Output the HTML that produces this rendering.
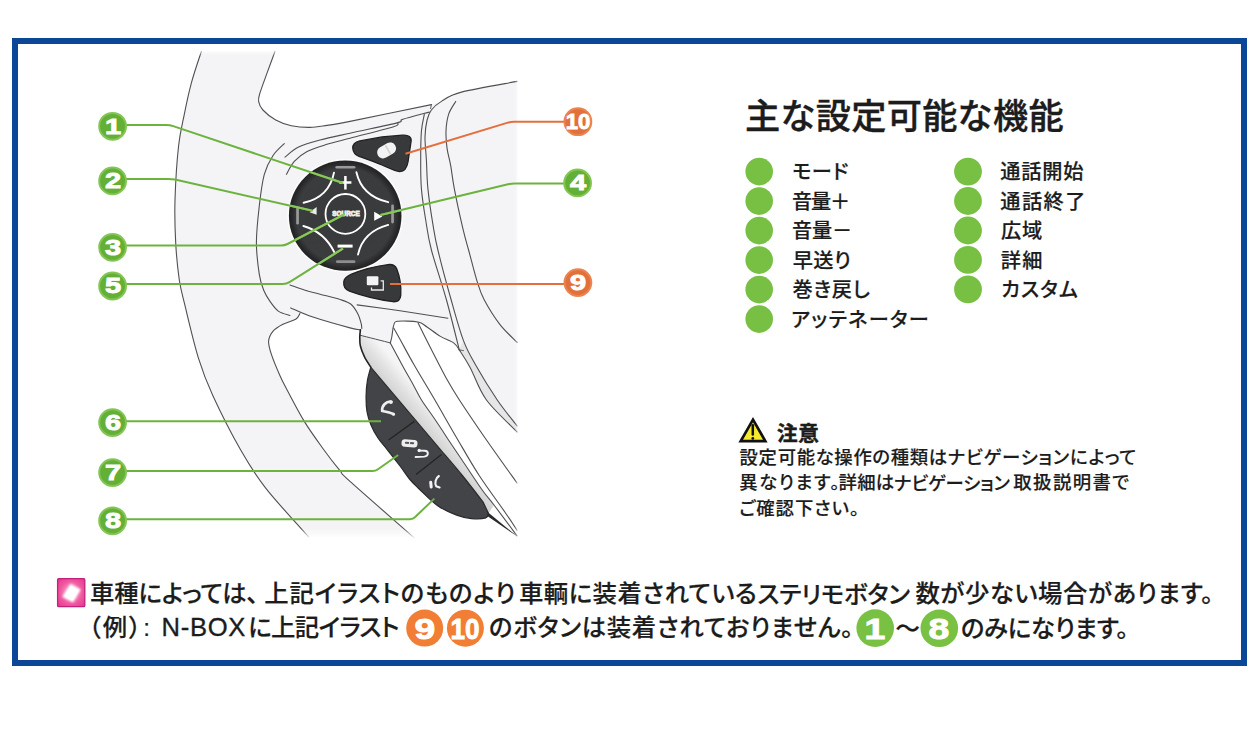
<!DOCTYPE html>
<html lang="ja"><head><meta charset="utf-8"><title>ステアリングリモコン 設定可能な機能</title>
<style>
html,body{margin:0;padding:0;background:#fff;}
body{width:1260px;height:742px;position:relative;overflow:hidden;font-family:"Liberation Sans","Noto Sans CJK JP",sans-serif;color:#1c1c1c;}
#frame{position:absolute;left:12px;top:38px;width:1223px;height:616px;border:6px solid #0b4697;box-sizing:content-box;}
.t{position:absolute;white-space:nowrap;line-height:1;}
.n{position:absolute;line-height:1;font-weight:700;color:#fff;white-space:nowrap;-webkit-text-stroke:0.9px #fff;font-family:"Liberation Sans",sans-serif;}
</style></head><body>
<div id="frame"></div>
<svg width="1260" height="742" viewBox="0 0 1260 742" style="position:absolute;left:0;top:0">
<defs>
<linearGradient id="fadeR" x1="0" x2="1" y1="0" y2="0"><stop offset="0" stop-color="#fff" stop-opacity="0"/><stop offset="1" stop-color="#fff"/></linearGradient>
<linearGradient id="fadeT" x1="0" x2="0" y1="1" y2="0"><stop offset="0" stop-color="#fff" stop-opacity="0"/><stop offset="1" stop-color="#fff"/></linearGradient>
<linearGradient id="fadeB" x1="0" x2="0" y1="0" y2="1"><stop offset="0" stop-color="#fff" stop-opacity="0"/><stop offset="1" stop-color="#fff"/></linearGradient>
<linearGradient id="gp" gradientUnits="userSpaceOnUse" x1="398.5" y1="400" x2="415.3" y2="385.8"><stop offset="0" stop-color="#d3d3d4"/><stop offset="0.5" stop-color="#e2e2e3"/><stop offset="1" stop-color="#f5f5f6"/></linearGradient>
<radialGradient id="dial" cx="0.5" cy="0.5" r="0.5"><stop offset="0" stop-color="#38393b"/><stop offset="0.86" stop-color="#3b3c3e"/><stop offset="0.95" stop-color="#28292a"/><stop offset="1" stop-color="#222223"/></radialGradient>
<radialGradient id="pinkr" cx="0.5" cy="0.5" r="0.75"><stop offset="0" stop-color="#fbb6d9"/><stop offset="0.55" stop-color="#f0579f"/><stop offset="1" stop-color="#e02f88"/></radialGradient>
<filter id="blur1" x="-30%" y="-30%" width="160%" height="160%"><feGaussianBlur stdDeviation="1.3"/></filter>
</defs>
<path d="M201.4 51.4 C199.7 56.6 194.2 72.4 191.4 82.9 C188.6 93.4 186.4 103.8 184.3 114.3 C182.2 124.8 180.2 131.4 178.6 145.7 C177.0 160.0 175.5 183.8 175.0 200.0 C174.5 216.2 175.0 229.6 175.7 242.9 C176.4 256.2 177.8 269.5 179.3 280.0 C180.9 290.5 181.8 292.6 185.0 305.7 C188.2 318.8 193.9 343.6 198.6 358.6 C203.2 373.6 205.9 380.5 212.9 395.7 C219.9 410.9 231.9 434.6 240.7 450.0 C249.5 465.4 254.4 473.6 265.7 488.1 C277.0 502.6 301.5 528.8 308.6 536.9 L517.5 537 L517.5 81.4 L461.4 92.1 L441.4 101.4 L431.4 104.6 L431.4 104.6 C417.8 107.4 367.4 117.9 350.0 121.4 C332.6 124.9 333.8 124.4 327.1 125.4 C320.4 126.4 315.9 127.4 310.0 127.4 C304.1 127.5 297.1 126.9 291.4 125.7 C285.7 124.5 280.4 122.6 275.7 120.0 C270.9 117.4 265.8 113.1 262.9 110.0 C260.0 106.9 259.1 104.2 258.6 101.4 C258.1 98.6 258.6 97.7 260.0 92.9 C261.4 88.2 264.6 79.8 267.1 72.9 C269.6 66.0 273.7 55.0 275.0 51.4Z" fill="#f4f4f6"/>
<path d="M300.0 313.3 C299.3 314.3 298.6 317.5 295.7 319.3 C292.8 321.1 286.7 322.3 282.9 324.3 C279.1 326.3 275.3 328.5 272.9 331.4 C270.5 334.2 268.9 337.6 268.6 341.4 C268.4 345.2 269.5 348.6 271.4 354.3 C273.3 360.0 277.4 369.8 280.0 375.7 C282.6 381.6 283.1 382.4 287.1 390.0 C291.2 397.6 298.2 411.4 304.3 421.4 C310.4 431.4 318.1 441.8 324.0 450.0 C329.9 458.2 335.7 465.5 340.0 470.7 C344.3 475.9 337.6 470.2 350.0 481.4 C362.4 492.6 403.6 528.5 414.3 537.9 L517.5 538 L517.5 432 L517.1 432.0 C512.0 426.6 494.1 410.6 486.3 399.8 C478.5 389.0 474.6 375.7 470.1 367.4 C465.6 359.1 461.1 352.8 459.3 349.9L459.3 349.9 C458.4 348.8 457.0 345.4 453.9 343.1 C450.8 340.9 444.9 339.1 440.4 336.4 C435.9 333.7 430.7 329.4 427.0 327.0 C423.3 324.6 422.9 322.9 418.0 322.0 C413.1 321.1 401.8 320.7 397.7 321.3 C393.6 321.9 394.7 322.7 393.7 325.4 C392.7 328.1 392.3 334.6 391.7 337.5 C391.1 340.4 390.5 342.0 390.3 342.9 L360.4 335.3 L360.4 329.9 L360.4 329.9 C358.7 329.6 357.9 330.0 350.0 327.9 C342.1 325.8 319.1 318.9 312.9 317.1 L300 312 Z" fill="#fff"/>
<path d="M459.3 349.9 C461.1 352.8 465.6 359.1 470.1 367.4 C474.6 375.7 478.5 389.0 486.3 399.8 C494.1 410.6 512.0 426.6 517.1 432.0 L517.1 426 L517.1 426.0 C513.8 421.6 504.0 410.0 497.1 399.8 C490.2 389.6 481.1 374.6 475.5 364.7 C469.9 354.8 465.4 344.4 463.4 340.4 L459.3 349.9Z" fill="#e6e6e7"/>
<path d="M360.4 335.3 L390.3 342.9 L390.3 342.9 C392.2 346.5 398.1 357.5 402.0 364.7 C405.9 371.9 410.8 380.3 414.0 386.2 C417.2 392.1 418.2 394.7 421.5 400.0 C424.8 405.3 430.6 413.0 434.0 418.0 C437.4 423.0 439.6 426.3 442.0 430.0 C444.4 433.7 445.2 435.0 448.5 440.0 C451.8 445.0 456.4 451.7 462.0 460.0 C467.6 468.3 476.9 482.5 482.2 490.0 C487.5 497.5 492.0 502.5 494.0 505.0 L488.5 513.4 L483 501.9 L462.3 475.5 L441.5 450.9 L370.8 367.2 L370.8 367.2 C369.8 365.5 366.2 360.4 364.5 356.9 C362.8 353.4 361.2 349.4 360.4 346.0 C359.6 342.6 359.8 339.3 359.8 336.6 C359.8 333.9 360.3 331.0 360.4 329.9Z" fill="url(#gp)"/>
<path d="M201.4 51.4 C199.7 56.6 194.2 72.4 191.4 82.9 C188.6 93.4 186.4 103.8 184.3 114.3 C182.2 124.8 180.2 131.4 178.6 145.7 C177.0 160.0 175.5 183.8 175.0 200.0 C174.5 216.2 175.0 229.6 175.7 242.9 C176.4 256.2 177.8 269.5 179.3 280.0 C180.9 290.5 181.8 292.6 185.0 305.7 C188.2 318.8 193.9 343.6 198.6 358.6 C203.2 373.6 205.9 380.5 212.9 395.7 C219.9 410.9 231.9 434.6 240.7 450.0 C249.5 465.4 254.4 473.6 265.7 488.1 C277.0 502.6 301.5 528.8 308.6 536.9" fill="none" stroke="#505054" stroke-width="1.1" stroke-linecap="round" />
<path d="M275.0 51.4 C273.7 55.0 269.6 66.0 267.1 72.9 C264.6 79.8 261.4 88.2 260.0 92.9 C258.6 97.7 258.1 98.6 258.6 101.4 C259.1 104.2 260.0 106.9 262.9 110.0 C265.8 113.1 270.9 117.4 275.7 120.0 C280.4 122.6 285.7 124.5 291.4 125.7 C297.1 126.9 304.1 127.5 310.0 127.4 C315.9 127.4 320.4 126.4 327.1 125.4 C333.8 124.4 332.6 124.9 350.0 121.4 C367.4 117.9 417.8 107.4 431.4 104.6" fill="none" stroke="#505054" stroke-width="1.1" stroke-linecap="round" />
<path d="M285.0 157.1 C287.3 155.4 292.8 149.9 298.6 147.1 C304.4 144.2 311.4 142.3 320.0 140.0 C328.6 137.7 337.2 136.0 350.0 133.2 C362.8 130.3 388.2 125.2 397.0 122.9 C405.8 120.6 397.5 121.1 402.9 119.3 C408.3 117.5 424.9 113.3 429.3 112.1" fill="none" stroke="#505054" stroke-width="1.1" stroke-linecap="round" />
<path d="M286.4 174.3 C287.7 172.2 290.9 165.2 294.3 161.4 C297.8 157.6 301.6 154.2 307.1 151.4 C312.6 148.6 320.0 146.5 327.1 144.3 C334.2 142.1 339.0 141.1 350.0 138.2 C361.0 135.3 384.9 129.6 392.9 127.1 C400.9 124.6 397.1 123.8 398.0 123.2" fill="none" stroke="#505054" stroke-width="1.1" stroke-linecap="round" />
<path d="M284.3 143.6 C282.4 145.6 276.2 150.6 272.9 155.7 C269.6 160.8 266.6 166.0 264.3 174.3 C262.0 182.6 260.6 194.3 259.3 205.7 C258.0 217.1 256.4 231.5 256.4 242.9 C256.4 254.3 258.1 266.4 259.3 274.3 C260.5 282.2 261.8 285.5 263.6 290.0 C265.4 294.5 267.5 297.8 270.0 301.4 C272.5 305.0 275.3 309.1 278.6 311.4 C281.9 313.7 288.1 314.7 290.0 315.4" fill="none" stroke="#505054" stroke-width="1.1" stroke-linecap="round" />
<path d="M300.0 313.3 C299.3 314.3 298.6 317.5 295.7 319.3 C292.8 321.1 286.7 322.3 282.9 324.3 C279.1 326.3 275.3 328.5 272.9 331.4 C270.5 334.2 268.9 337.6 268.6 341.4 C268.4 345.2 269.5 348.6 271.4 354.3 C273.3 360.0 277.4 369.8 280.0 375.7 C282.6 381.6 283.1 382.4 287.1 390.0 C291.2 397.6 298.2 411.4 304.3 421.4 C310.4 431.4 318.1 441.8 324.0 450.0 C329.9 458.2 335.7 465.5 340.0 470.7 C344.3 475.9 337.6 470.2 350.0 481.4 C362.4 492.6 403.6 528.5 414.3 537.9" fill="none" stroke="#505054" stroke-width="1.1" stroke-linecap="round" />
<path d="M290.0 285.0 C292.4 285.8 299.3 288.5 304.3 290.0 C309.3 291.5 314.0 292.6 320.0 294.2 C326.0 295.8 335.0 297.9 340.2 299.6 C345.4 301.3 348.1 302.0 351.0 304.3 C353.9 306.6 356.1 310.6 357.8 313.7 C359.5 316.8 360.4 320.6 361.1 323.1 C361.8 325.6 361.7 327.6 361.8 328.5" fill="none" stroke="#505054" stroke-width="1.1" stroke-linecap="round" />
<path d="M290.7 307.9 C294.4 309.4 303.0 313.8 312.9 317.1 C322.8 320.4 342.1 325.8 350.0 327.9 C357.9 330.0 358.7 329.6 360.4 329.9" fill="none" stroke="#505054" stroke-width="1.1" stroke-linecap="round" />
<path d="M357.1 304.9 C364.2 305.9 384.9 308.6 400.0 310.8 C415.1 313.0 439.9 317.0 447.9 318.2" fill="none" stroke="#505054" stroke-width="1.1" stroke-linecap="round" />
<path d="M517.1 81.4 C507.8 83.2 474.0 88.8 461.4 92.1 C448.8 95.4 446.4 98.4 441.4 101.4 C436.4 104.4 433.8 106.9 431.4 110.0 C429.0 113.1 428.2 115.5 427.1 120.0 C426.0 124.5 425.1 130.4 425.0 137.1 C424.9 143.8 425.9 151.4 426.4 160.0 C426.9 168.6 426.8 177.9 427.9 188.6 C429.0 199.3 431.2 214.1 432.9 224.3 C434.6 234.5 434.8 237.4 437.9 250.0 C440.9 262.6 446.9 284.9 451.2 300.0 C455.4 315.1 459.3 329.6 463.4 340.4 C467.4 351.2 469.9 354.8 475.5 364.7 C481.1 374.6 490.2 389.6 497.1 399.8 C504.0 410.0 513.8 421.6 517.1 426.0" fill="none" stroke="#505054" stroke-width="1.1" stroke-linecap="round" />
<path d="M424.3 114.3 C423.8 117.2 422.0 123.8 421.4 131.4 C420.8 139.0 420.7 150.5 420.7 160.0 C420.7 169.5 420.6 178.6 421.4 188.6 C422.2 198.6 424.0 209.8 425.7 220.0 C427.4 230.2 427.9 236.7 431.4 250.0 C434.9 263.3 441.9 283.4 446.5 300.0 C451.1 316.6 457.2 341.6 459.3 349.9" fill="none" stroke="#505054" stroke-width="1.1" stroke-linecap="round" />
<path d="M459.3 349.9 C461.1 352.8 465.6 359.1 470.1 367.4 C474.6 375.7 478.5 389.0 486.3 399.8 C494.1 410.6 512.0 426.6 517.1 432.0" fill="none" stroke="#505054" stroke-width="1.1" stroke-linecap="round" />
<path d="M455.7 101.4 C454.5 103.6 450.2 109.3 448.6 114.3 C447.0 119.3 446.2 125.7 446.0 131.4 C445.8 137.1 446.3 142.9 447.1 148.6 C447.9 154.3 449.5 159.0 450.7 165.7 C451.9 172.4 452.3 178.1 454.3 188.6 C456.3 199.1 460.5 218.4 462.9 228.6 C465.3 238.8 466.2 241.2 468.6 250.0 C471.0 258.8 474.5 273.1 477.1 281.4 C479.7 289.7 480.5 292.9 484.3 300.0 C488.1 307.1 494.3 317.2 499.8 324.3 C505.3 331.4 514.4 339.5 517.3 342.5" fill="none" stroke="#505054" stroke-width="1.1" stroke-linecap="round" />
<path d="M390.3 342.9 C390.5 342.0 391.1 340.4 391.7 337.5 C392.3 334.6 392.7 328.1 393.7 325.4 C394.7 322.7 393.6 321.9 397.7 321.3 C401.8 320.7 413.1 321.1 418.0 322.0 C422.9 322.9 423.3 324.6 427.0 327.0 C430.7 329.4 435.9 333.7 440.4 336.4 C444.9 339.1 450.8 340.9 453.9 343.1 C457.0 345.4 458.4 348.8 459.3 349.9" fill="none" stroke="#505054" stroke-width="1.1" stroke-linecap="round" />
<path d="M390.3 342.9 C392.2 346.5 398.1 357.5 402.0 364.7 C405.9 371.9 410.8 380.3 414.0 386.2 C417.2 392.1 418.2 394.7 421.5 400.0 C424.8 405.3 430.6 413.0 434.0 418.0 C437.4 423.0 439.6 426.3 442.0 430.0 C444.4 433.7 445.2 435.0 448.5 440.0 C451.8 445.0 456.4 451.7 462.0 460.0 C467.6 468.3 476.9 482.5 482.2 490.0 C487.5 497.5 488.2 497.4 494.0 505.0 C499.8 512.6 513.2 530.7 517.0 535.8" fill="none" stroke="#505054" stroke-width="1.1" stroke-linecap="round" />
<path d="M393.7 328.1 C394.8 330.1 397.0 333.9 400.4 340.0 C403.8 346.1 408.1 354.5 413.9 364.5 C419.6 374.5 427.8 387.8 434.9 400.0 C442.0 412.2 449.2 425.1 456.6 437.7 C464.0 450.3 471.0 462.9 479.2 475.5 C487.4 488.1 499.4 504.1 505.7 513.2 C512.0 522.3 515.1 527.4 517.0 530.2" fill="none" stroke="#505054" stroke-width="1.1" stroke-linecap="round" />
<path d="M418.0 322.7 C420.0 326.8 425.2 337.4 430.1 347.0 C435.0 356.6 442.7 371.8 447.6 380.6 C452.5 389.4 453.2 390.5 459.4 400.0 C465.6 409.5 475.3 423.9 484.9 437.7 C494.5 451.5 511.6 475.4 517.0 483.0" fill="none" stroke="#505054" stroke-width="1.1" stroke-linecap="round" />
<path d="M431.4 104.6 C431.3 105.2 430.7 107.8 430.6 108.5" fill="none" stroke="#505054" stroke-width="1" stroke-linecap="round" />
<path d="M459.3 349.9 C460.0 350.0 462.7 350.5 463.4 350.6" fill="none" stroke="#505054" stroke-width="1" stroke-linecap="round" />
<path d="M360.4 335.3 C365.4 336.6 385.3 341.6 390.3 342.9" fill="none" stroke="#505054" stroke-width="1" stroke-linecap="round" />
<path d="M360.4 329.9 C360.3 331.0 359.8 333.9 359.8 336.6 C359.8 339.3 359.6 342.6 360.4 346.0 C361.2 349.4 362.8 353.4 364.5 356.9 C366.2 360.4 369.8 365.5 370.8 367.2" fill="none" stroke="#222" stroke-width="1.6" stroke-linecap="round" />
<path d="M370.8 367.2 C370.2 369.4 368.2 375.9 367.4 380.6 C366.6 385.3 366.2 390.3 366.1 395.5 C366.0 400.7 366.2 406.7 367.0 411.6 C367.8 416.5 369.2 420.6 371.0 425.0 C372.8 429.4 375.3 433.9 378.0 438.0 C380.7 442.1 383.3 444.6 387.0 449.3 C390.7 454.0 396.2 461.1 400.0 466.0 C403.8 470.9 406.4 475.2 409.5 479.0 C412.6 482.8 414.2 484.2 418.9 488.7 C423.6 493.1 431.4 501.3 437.7 505.7 C444.0 510.1 451.0 513.0 456.6 515.1 C462.2 517.2 466.5 518.1 471.4 518.6 C476.2 519.1 482.8 518.8 485.7 517.9 C488.6 517.0 488.0 514.1 488.5 513.4L483.0 501.9 C479.6 497.5 469.2 484.0 462.3 475.5 C455.4 467.0 445.0 455.0 441.5 450.9 L370.8 367.2Z" fill="#434447" stroke="#2a2a2b" stroke-width="1.2"/>
<path d="M388.6 440 L414.3 421.4" stroke="#242425" stroke-width="1.3" fill="none"/>
<path d="M416 474.5 L441.5 454.5" stroke="#242425" stroke-width="1.3" fill="none"/>
<path d="M487 511.5 L517 536.3 L488 516.5Z" fill="#2a2a2a"/>
<path d="M391.3 401.8 C386.5 401 381.6 405.5 382.2 411 C386 411.6 390.5 412.4 393.8 414.4" stroke="#efefef" stroke-width="2.7" stroke-linecap="round" stroke-linejoin="round" fill="none"/>
<circle cx="390.9" cy="402.1" r="1.9" fill="#efefef"/><circle cx="393.2" cy="414" r="1.6" fill="#efefef"/>
<g transform="translate(409.5 443.4) rotate(4)"><rect x="-8" y="-3.8" width="16" height="7.6" rx="3.4" fill="#eeeeee"/><rect x="-4.6" y="-1.5" width="9.2" height="2.2" rx="0.8" fill="#555"/><rect x="-0.6" y="-1.5" width="1.2" height="2.2" fill="#ddd"/></g>
<path d="M415.6 457 L424.3 456.6 C429 456.2 429 450.9 424.6 450.7 L420.5 450.6" stroke="#f2f2f2" stroke-width="1.9" stroke-linecap="round" fill="none"/>
<circle cx="419.2" cy="450.5" r="1.7" fill="#f2f2f2"/>
<path d="M438.9 476 C435.4 478.2 434.6 483.2 436.2 486.3 L439.6 487.5" stroke="#f4f4f4" stroke-width="2.1" stroke-linecap="round" stroke-linejoin="round" fill="none"/>
<path d="M430.7 482.2 L431.2 487" stroke="#f4f4f4" stroke-width="3" stroke-linecap="round" fill="none"/>
<rect x="514.5" y="60" width="6" height="480" fill="url(#fadeR)"/>
<rect x="520.5" y="60" width="6" height="480" fill="#fff"/>
<rect x="190" y="48" width="100" height="8" fill="url(#fadeT)"/>
<rect x="280" y="528" width="150" height="11" fill="url(#fadeB)"/>
<ellipse cx="345.2" cy="215.7" rx="57.9" ry="56.7" fill="#fff" opacity="0.75"/>
<path d="M352.8 148.5 C352.5 144.5 355.5 141.8 359.8 140.9 L382 136.9 L402.5 135.2 C408.5 134.7 412 137 411 142 L408 162 C406.8 168.5 404 171.8 399.5 171.6 C395 171.3 390 168.5 382 165 C375 162 367 159.2 359 156.3 C355 154.8 353.1 152 352.8 148.5Z" fill="#38393b" stroke="#202021" stroke-width="1.3"/>
<g transform="translate(386.6 150.4) rotate(-30)"><rect x="-10" y="-6" width="20" height="12" rx="6" fill="#f3f3f3"/><path d="M1.5 -5 L1.5 5" stroke="#d2d2d2" stroke-width="1.6"/></g>
<path d="M343.8 281.5 C344.3 278 347.5 276 351 274.4 C362 269.6 375 266.3 388 264.6 C392.8 264 395.5 265.8 396.8 269 C400 277 401.2 286.5 400.8 295 C400.5 299.8 397.8 302 393 301.7 C378 299.8 362 295.8 349.5 291.2 C345 289.3 343.3 285.5 343.8 281.5Z" fill="#38393b" stroke="#202021" stroke-width="1.3"/>
<rect x="366.8" y="276.3" width="11.6" height="9" rx="1" fill="#f3f3f3"/>
<path d="M371.5 287.6 L371.5 290 L383.3 290 L383.3 280.8 L380.6 280.8" fill="none" stroke="#e9e9e9" stroke-width="1.3"/>
<ellipse cx="345.2" cy="215.7" rx="56.3" ry="55.1" fill="url(#dial)"/>
<circle cx="345.4" cy="213.9" r="19.9" fill="none" stroke="#fff" stroke-width="1.8"/>
<path d="M334 172.6 Q329.1 197.3 303.6 202.8" stroke="#fff" stroke-width="1.9" stroke-linecap="round" fill="none"/>
<path d="M356.4 172.2 Q361.8 195.9 388.2 202.2" stroke="#fff" stroke-width="1.9" stroke-linecap="round" fill="none"/>
<path d="M303.4 226 Q324.6 232 334.7 252.9" stroke="#fff" stroke-width="1.9" stroke-linecap="round" fill="none"/>
<path d="M388.2 224.9 Q363.1 231.6 358 254.6" stroke="#fff" stroke-width="1.9" stroke-linecap="round" fill="none"/>
<rect x="335.4" y="165.9" width="20" height="2.7" rx="1.3" fill="#9a9a9a"/>
<rect x="336" y="260.3" width="19.4" height="2.7" rx="1.3" fill="#8e8e8e"/>
<rect x="296.2" y="206.3" width="2.7" height="18.2" rx="1.3" fill="#9a9a9a"/>
<rect x="391.2" y="204.4" width="2.7" height="19" rx="1.3" fill="#9a9a9a"/>
<path d="M345.4 176 L345.4 189.4 M339.4 182.5 L351.4 182.5" stroke="#fff" stroke-width="2.5" fill="none"/>
<rect x="337.6" y="244.6" width="15" height="3" fill="#fff"/>
<path d="M316.6 207 L316.6 214.8 L309.6 212.2Z" fill="#eaeaea"/>
<path d="M374.2 211.8 L382.4 216.4 L374.2 220.8Z" fill="#fff"/>
<text x="346" y="216.1" font-family="Liberation Sans, sans-serif" font-weight="700" font-size="7.4" text-anchor="middle" fill="#efefe6" stroke="#efefe6" stroke-width="0.9" textLength="27.6" lengthAdjust="spacingAndGlyphs">SOURCE</text>
<path d="M112 125 L166 125 Q170 125 174 126.4 L343 183" fill="none" stroke="#6cb33e" stroke-width="2" stroke-linejoin="round"/>
<path d="M112 178.9 L168 178.9 Q171.5 178.9 175 179.6 L312.5 210.8" fill="none" stroke="#6cb33e" stroke-width="2" stroke-linejoin="round"/>
<path d="M112 245.6 L281 245.6 Q284.5 245.6 287.5 244 L344.5 214.2" fill="none" stroke="#6cb33e" stroke-width="2" stroke-linejoin="round"/>
<path d="M112 284 L283 284 Q286.5 284 289.5 282.1 L343 248.5" fill="none" stroke="#6cb33e" stroke-width="2" stroke-linejoin="round"/>
<path d="M112 421.2 L381 421.2" fill="none" stroke="#6cb33e" stroke-width="2" stroke-linejoin="round"/>
<path d="M112 471 L372.5 471 Q375.5 471 378 469.2 L398.2 455" fill="none" stroke="#6cb33e" stroke-width="2" stroke-linejoin="round"/>
<path d="M112 519.2 L410 519.2 Q413 519.2 415.2 517 L434.3 498.6" fill="none" stroke="#6cb33e" stroke-width="2" stroke-linejoin="round"/>
<path d="M577 183.4 L515 183.4 Q511.5 183.4 508 184.2 L380.5 215" fill="none" stroke="#6cb33e" stroke-width="2" stroke-linejoin="round"/>
<path d="M577 121.8 L514 121.8 Q510.5 121.8 507 122.9 L405.5 153.7" fill="none" stroke="#e3703c" stroke-width="2" stroke-linejoin="round"/>
<clipPath id="dialclip"><ellipse cx="345.2" cy="215.7" rx="56.3" ry="55.1"/></clipPath>
<g clip-path="url(#dialclip)" stroke="#8ccc5c" stroke-width="2.2" fill="none" opacity="0.9"><path d="M174 126.4 L343 183"/><path d="M175 179.6 L312.5 210.8"/><path d="M287.5 244 L344.5 214.2"/><path d="M289.5 282.1 L343 248.5"/><path d="M508 184.2 L380.5 215"/></g>
<path d="M577 283.9 L390 283.9" fill="none" stroke="#e3703c" stroke-width="2" stroke-linejoin="round"/>
<circle cx="112.6" cy="126.3" r="13.4" fill="#64af36" stroke="#83c655" stroke-width="2"/>
<circle cx="112.6" cy="180.9" r="13.4" fill="#64af36" stroke="#83c655" stroke-width="2"/>
<circle cx="112.6" cy="247.4" r="13.4" fill="#64af36" stroke="#83c655" stroke-width="2"/>
<circle cx="112.6" cy="286" r="13.4" fill="#64af36" stroke="#83c655" stroke-width="2"/>
<circle cx="112.6" cy="422.6" r="13.4" fill="#64af36" stroke="#83c655" stroke-width="2"/>
<circle cx="112.6" cy="472.6" r="13.4" fill="#64af36" stroke="#83c655" stroke-width="2"/>
<circle cx="112.6" cy="520.8" r="13.4" fill="#64af36" stroke="#83c655" stroke-width="2"/>
<circle cx="577.6" cy="182.9" r="13.4" fill="#64af36" stroke="#83c655" stroke-width="2"/>
<circle cx="577.9" cy="121.7" r="13.4" fill="#e2703a" stroke="#ea8552" stroke-width="2"/>
<circle cx="577.9" cy="282.6" r="13.4" fill="#e2703a" stroke="#ea8552" stroke-width="2"/>
<circle cx="759.2" cy="171.6" r="13.8" fill="#77c043"/>
<circle cx="759.2" cy="201.1" r="13.8" fill="#77c043"/>
<circle cx="759.2" cy="230.6" r="13.8" fill="#77c043"/>
<circle cx="759.2" cy="260.1" r="13.8" fill="#77c043"/>
<circle cx="759.2" cy="289.6" r="13.8" fill="#77c043"/>
<circle cx="759.2" cy="319.1" r="13.8" fill="#77c043"/>
<circle cx="968" cy="171.6" r="13.9" fill="#77c043"/>
<circle cx="968" cy="201.0" r="13.9" fill="#77c043"/>
<circle cx="968" cy="230.5" r="13.9" fill="#77c043"/>
<circle cx="968" cy="259.9" r="13.9" fill="#77c043"/>
<circle cx="968" cy="289.4" r="13.9" fill="#77c043"/>
<path d="M753 419.6 L765.3 441.1 L740.7 441.1Z" fill="#f6e92e" stroke="#111" stroke-width="2.7" stroke-linejoin="miter"/>
<path d="M752.8 425.2 L752.8 434.6" stroke="#111" stroke-width="2.5" stroke-linecap="round"/><circle cx="752.8" cy="438.4" r="1.4" fill="#111"/>
<rect x="57.6" y="578.6" width="27.2" height="28" rx="1.2" fill="url(#pinkr)" stroke="#c3207a" stroke-width="1.3"/>
<path d="M70.5 583.8 L80.8 589.5 L73 602.6 L62.2 596.8Z" fill="#fff" filter="url(#blur1)"/>
<path d="M70.6 586 L78.6 590.3 L72.7 600.2 L64.6 595.8Z" fill="#fff"/>
<circle cx="424.7" cy="628.1" r="18.5" fill="#f27d35"/>
<circle cx="465.4" cy="628.2" r="18.5" fill="#f27d35"/>
<circle cx="875.2" cy="628.1" r="18.8" fill="#79c142"/>
<circle cx="939.3" cy="628.3" r="18.8" fill="#79c142"/>
</svg>
<div class="n" style="left:112.6px;top:126.6px;font-size:22.5px;transform:translate(-50%,-50%) scaleX(1.29)">1</div>
<div class="n" style="left:112.6px;top:181.2px;font-size:22.5px;transform:translate(-50%,-50%) scaleX(1.29)">2</div>
<div class="n" style="left:112.6px;top:247.7px;font-size:22.5px;transform:translate(-50%,-50%) scaleX(1.29)">3</div>
<div class="n" style="left:112.6px;top:286.3px;font-size:22.5px;transform:translate(-50%,-50%) scaleX(1.29)">5</div>
<div class="n" style="left:112.6px;top:422.9px;font-size:22.5px;transform:translate(-50%,-50%) scaleX(1.29)">6</div>
<div class="n" style="left:112.6px;top:472.9px;font-size:22.5px;transform:translate(-50%,-50%) scaleX(1.29)">7</div>
<div class="n" style="left:112.6px;top:521.1px;font-size:22.5px;transform:translate(-50%,-50%) scaleX(1.29)">8</div>
<div class="n" style="left:577.6px;top:183.2px;font-size:22.5px;transform:translate(-50%,-50%) scaleX(1.29)">4</div>
<div class="n" style="left:577.9px;top:122.0px;font-size:22.5px;transform:translate(-50%,-50%) scaleX(0.98)">10</div>
<div class="n" style="left:577.9px;top:282.9px;font-size:22.5px;transform:translate(-50%,-50%) scaleX(1.29)">9</div>
<div class="n" style="left:424.7px;top:628.5px;font-size:29.9px;transform:translate(-50%,-50%) scaleX(1.25)">9</div>
<div class="n" style="left:465.4px;top:628.6px;font-size:29.9px;transform:translate(-50%,-50%) scaleX(0.875)">10</div>
<div class="n" style="left:875.2px;top:628.5px;font-size:29.9px;transform:translate(-50%,-50%) scaleX(1.25)">1</div>
<div class="n" style="left:939.3px;top:628.7px;font-size:29.9px;transform:translate(-50%,-50%) scaleX(1.25)">8</div>
<div class="t" style="left:745.0px;top:99.1px;font-size:35.2px;font-weight:500;-webkit-text-stroke:0.35px #1c1c1c;letter-spacing:0.24px">主な設定可能な機能</div>
<div class="t" style="left:792.3px;top:161.5px;font-size:20.2px;font-weight:500;font-feature-settings:'palt';-webkit-text-stroke:0.2px #1c1c1c;letter-spacing:0.50px">モード</div>
<div class="t" style="left:792.0px;top:191.5px;font-size:20.2px;font-weight:500;font-feature-settings:'palt';-webkit-text-stroke:0.2px #1c1c1c;letter-spacing:-1.25px">音量＋</div>
<div class="t" style="left:792.0px;top:221.0px;font-size:20.2px;font-weight:500;font-feature-settings:'palt';-webkit-text-stroke:0.2px #1c1c1c;letter-spacing:-0.25px">音量－</div>
<div class="t" style="left:792.7px;top:250.5px;font-size:20.2px;font-weight:500;font-feature-settings:'palt';-webkit-text-stroke:0.2px #1c1c1c;letter-spacing:0.40px">早送り</div>
<div class="t" style="left:792.4px;top:280.0px;font-size:20.2px;font-weight:500;font-feature-settings:'palt';-webkit-text-stroke:0.2px #1c1c1c;letter-spacing:0.77px">巻き戻し</div>
<div class="t" style="left:791.2px;top:309.5px;font-size:20.2px;font-weight:500;font-feature-settings:'palt';-webkit-text-stroke:0.2px #1c1c1c;letter-spacing:1.32px">アッテネーター</div>
<div class="t" style="left:1000.2px;top:162.0px;font-size:20.2px;font-weight:500;font-feature-settings:'palt';-webkit-text-stroke:0.2px #1c1c1c;letter-spacing:0.83px">通話開始</div>
<div class="t" style="left:1000.2px;top:191.5px;font-size:20.2px;font-weight:500;font-feature-settings:'palt';-webkit-text-stroke:0.2px #1c1c1c;letter-spacing:1.50px">通話終了</div>
<div class="t" style="left:1001.1px;top:221.0px;font-size:20.2px;font-weight:500;font-feature-settings:'palt';-webkit-text-stroke:0.2px #1c1c1c;letter-spacing:0.80px">広域</div>
<div class="t" style="left:1000.8px;top:250.5px;font-size:20.2px;font-weight:500;font-feature-settings:'palt';-webkit-text-stroke:0.2px #1c1c1c;letter-spacing:1.20px">詳細</div>
<div class="t" style="left:1001.2px;top:280.0px;font-size:20.2px;font-weight:500;font-feature-settings:'palt';-webkit-text-stroke:0.2px #1c1c1c;letter-spacing:1.10px">カスタム</div>
<div class="t" style="left:777.0px;top:423.5px;font-size:20.6px;font-weight:700;-webkit-text-stroke:0.5px #1c1c1c;letter-spacing:0.60px">注意</div>
<div class="t" style="left:739.6px;top:448.8px;font-size:18.4px;font-weight:500;font-feature-settings:'palt';-webkit-text-stroke:0.15px #1c1c1c;letter-spacing:0.63px">設定可能な操作の種類は</div>
<div class="t" style="left:947.6px;top:449.3px;font-size:18.4px;font-weight:500;font-feature-settings:'palt';-webkit-text-stroke:0.15px #1c1c1c;letter-spacing:0.77px">ナビゲーションによって</div>
<div class="t" style="left:739.2px;top:473.8px;font-size:18.4px;font-weight:500;font-feature-settings:'palt';-webkit-text-stroke:0.15px #1c1c1c;letter-spacing:1.52px">異なります。</div>
<div class="t" style="left:838.6px;top:474.3px;font-size:18.4px;font-weight:500;font-feature-settings:'palt';-webkit-text-stroke:0.15px #1c1c1c;letter-spacing:0.15px">詳細は</div>
<div class="t" style="left:894.0px;top:475.1px;font-size:18.4px;font-weight:500;font-feature-settings:'palt';-webkit-text-stroke:0.15px #1c1c1c;letter-spacing:-0.17px">ナビゲーション</div>
<div class="t" style="left:1013.3px;top:474.3px;font-size:18.4px;font-weight:500;font-feature-settings:'palt';-webkit-text-stroke:0.15px #1c1c1c;letter-spacing:1.40px">取扱説明書で</div>
<div class="t" style="left:739.2px;top:499.9px;font-size:18.4px;font-weight:500;font-feature-settings:'palt';-webkit-text-stroke:0.15px #1c1c1c;letter-spacing:0.92px">ご確認下さい。</div>
<div class="t" style="left:89.9px;top:582.3px;font-size:24.4px;font-weight:500;font-feature-settings:'palt';-webkit-text-stroke:0.2px #1c1c1c;letter-spacing:-0.10px">車種によっては、</div>
<div class="t" style="left:264.2px;top:582.3px;font-size:24.4px;font-weight:500;font-feature-settings:'palt';-webkit-text-stroke:0.2px #1c1c1c;letter-spacing:0.83px">上記イラストのものより</div>
<div class="t" style="left:519.0px;top:582.3px;font-size:24.4px;font-weight:500;font-feature-settings:'palt';-webkit-text-stroke:0.2px #1c1c1c;letter-spacing:0.44px">車輌に装着されている</div>
<div class="t" style="left:757.6px;top:582.6px;font-size:24.4px;font-weight:500;font-feature-settings:'palt';-webkit-text-stroke:0.2px #1c1c1c;letter-spacing:-0.22px">ステリモボタン</div>
<div class="t" style="left:915.4px;top:582.3px;font-size:24.4px;font-weight:500;font-feature-settings:'palt';-webkit-text-stroke:0.2px #1c1c1c;letter-spacing:0.61px">数が少ない場合があります。</div>
<div class="t" style="left:88.6px;top:616.0px;font-size:24.4px;font-weight:500;font-feature-settings:'palt';-webkit-text-stroke:0.2px #1c1c1c;letter-spacing:1.85px">（例）</div>
<div class="t" style="left:143.2px;top:615.5px;font-size:24.4px;font-weight:500;font-feature-settings:'palt';-webkit-text-stroke:0.2px #1c1c1c;letter-spacing:0.00px">:</div>
<div class="t" style="left:161.6px;top:615.0px;font-size:25.6px;font-weight:400;-webkit-text-stroke:0.35px #1c1c1c;letter-spacing:0.67px">N-BOX</div>
<div class="t" style="left:248.2px;top:616.0px;font-size:24.4px;font-weight:500;font-feature-settings:'palt';-webkit-text-stroke:0.2px #1c1c1c;letter-spacing:-0.62px">に上記イラスト</div>
<div class="t" style="left:489.0px;top:616.0px;font-size:24.4px;font-weight:500;font-feature-settings:'palt';-webkit-text-stroke:0.2px #1c1c1c;letter-spacing:0.67px">のボタンは装着されておりません。</div>
<div class="t" style="left:895.5px;top:616.5px;font-size:24.4px;font-weight:500;font-feature-settings:'palt';-webkit-text-stroke:0.2px #1c1c1c;letter-spacing:0.00px">〜</div>
<div class="t" style="left:960.8px;top:616.5px;font-size:24.4px;font-weight:500;font-feature-settings:'palt';-webkit-text-stroke:0.2px #1c1c1c;letter-spacing:-0.24px">のみになります。</div>
</body></html>
